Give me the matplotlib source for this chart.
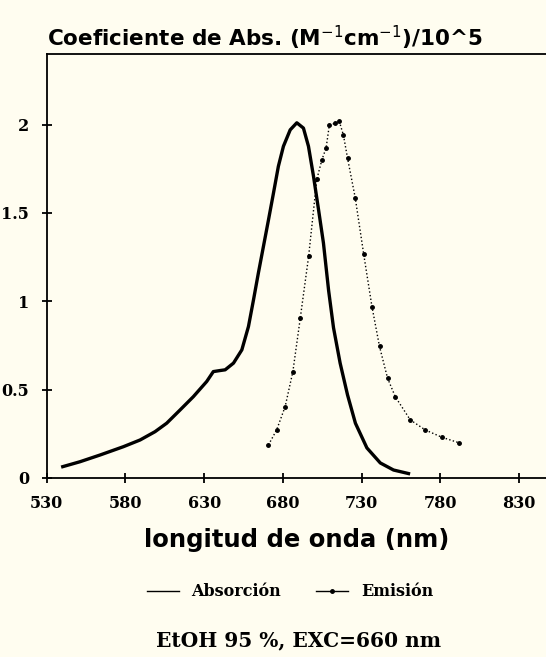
import matplotlib
matplotlib.use("Agg")
import matplotlib.pyplot as plt
import numpy as np

# absorption spectrum (solid line)
abs_nm = [540.2, 551.2, 563.9, 578.7, 589.3, 598.8, 606.2, 614.7, 623.1, 631.6,
          635.8, 640.1, 643.3, 648.6, 653.9, 658.1, 661.3, 664.4, 667.6, 670.8,
          674.0, 677.1, 680.3, 684.6, 688.8, 693.0, 696.2, 699.4, 702.6, 705.7,
          709.0, 712.1, 716.3, 721.0, 726.0, 733.3, 741.8, 750.2, 759.7]
abs_val = [0.064, 0.092, 0.13, 0.177, 0.215, 0.262, 0.31, 0.385, 0.46, 0.546,
           0.602, 0.608, 0.612, 0.65, 0.725, 0.857, 1.008, 1.16, 1.31, 1.46,
           1.613, 1.764, 1.877, 1.97, 2.01, 1.98, 1.877, 1.707, 1.518, 1.33,
           1.06, 0.85, 0.65, 0.47, 0.31, 0.17, 0.085, 0.045, 0.025]

# emission spectrum (dotted with markers)
em_nm = [670.8, 676.0, 681.4, 686.3, 691.0, 696.3, 701.5, 704.7, 707.4, 709.5,
         713.2, 715.7, 718.4, 721.0, 725.9, 731.2, 736.5, 741.3, 746.4, 751.3,
         760.8, 770.3, 781.0, 791.5]
em_val = [0.187, 0.272, 0.404, 0.602, 0.905, 1.254, 1.69, 1.80, 1.868, 2.00,
          2.006, 2.02, 1.94, 1.81, 1.585, 1.27, 0.97, 0.744, 0.565, 0.46,
          0.329, 0.272, 0.23, 0.20]

xticks = [530, 580, 630, 680, 730, 780, 830]
yticks = [0, 0.5, 1, 1.5, 2]
ytick_labels = ["0", "0.5", "1", "1.5", "2"]

bg = "#fffdf0"
serif = "DejaVu Serif"
fig = plt.figure(figsize=(5.46, 6.57), dpi=100, facecolor=bg)
ax = fig.add_axes([0.0855, 0.2725, 0.9145, 0.6455], facecolor=bg)

ax.plot(abs_nm, abs_val, "-", color="black", linewidth=2.4,
        solid_joinstyle="round", label="Absorción")
ax.plot(em_nm, em_val, ":", color="black", linewidth=1.0, marker="o",
        markersize=2.5, label="Emisión")

ax.set_xlim(530, 847)
ax.set_ylim(0, 2.4)
ax.spines["right"].set_visible(False)
for s in ["left", "top", "bottom"]:
    ax.spines[s].set_linewidth(1.3)

ax.set_xticks(xticks)
ax.set_yticks(yticks)
ax.set_yticklabels(ytick_labels)
ax.tick_params(direction="inout", length=7, width=1.3, labelsize=11.5, pad=9)
for lab in ax.get_xticklabels() + ax.get_yticklabels():
    lab.set_fontfamily(serif)
    lab.set_fontweight("bold")

ax.set_xlabel("longitud de onda (nm)", fontsize=17.5, fontweight="bold",
              fontfamily="DejaVu Sans", labelpad=11)

fig.text(0.0855, 0.943, "Coeficiente de Abs. (M$^{-1}$cm$^{-1}$)/10^5",
         fontsize=15.5, fontweight="bold", fontfamily="DejaVu Sans",
         ha="left", va="center")

leg = fig.legend(loc="center", bbox_to_anchor=(0.531, 0.099), ncol=2,
                 frameon=False, handlelength=2.0, columnspacing=2.2,
                 prop={"family": serif, "weight": "bold", "size": 11.5})
for h in leg.get_lines():
    h.set_linewidth(1.0)
    h.set_linestyle("-")

fig.text(0.546, 0.025, "EtOH 95 %, EXC=660 nm", fontsize=14.5, fontweight="bold",
         fontfamily=serif, ha="center", va="center")

fig.savefig("out.png", dpi=100, facecolor=bg)
